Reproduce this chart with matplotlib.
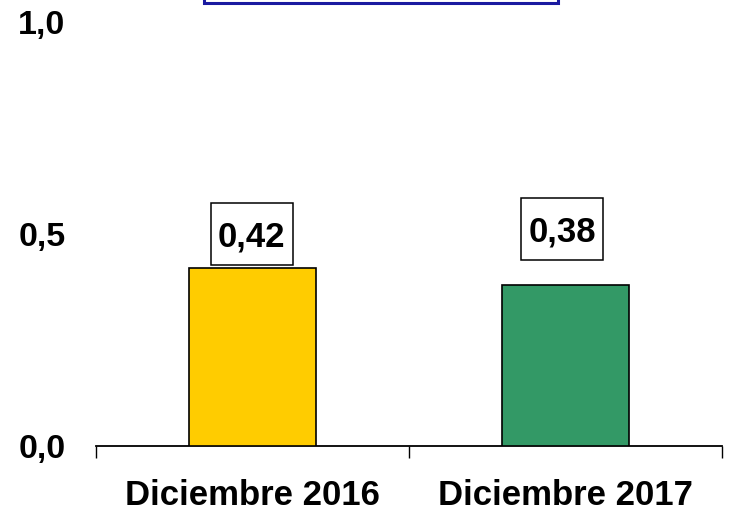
import matplotlib
matplotlib.use("Agg")
import matplotlib.pyplot as plt
from matplotlib.patches import Rectangle

categories = ["Diciembre 2016", "Diciembre 2017"]
values = [0.42, 0.38]
value_labels = ["0,42", "0,38"]
yticks = [0.0, 0.5, 1.0]
ytick_labels = ["0,0", "0,5", "1,0"]

colors = ["#FFCC00", "#339966"]
label_offsets = [0.007, 0.059]
label_dx = [-0.003, -0.01]

plt.rcParams['font.family'] = ['Liberation Sans', 'DejaVu Sans']

fig = plt.figure(figsize=(7.29, 5.15), dpi=100)
ax = fig.add_axes([96/729, 69/515, 626/729, 424/515])

x = list(range(len(categories)))
ax.bar(x, values, width=0.405, color=colors, edgecolor="black", linewidth=1.2, zorder=3)

ax.set_xlim(-0.5, len(categories) - 0.5)
ax.set_ylim(0, 1.0)

ax.set_yticks(yticks)
ax.set_yticklabels(ytick_labels, fontsize=24.5, fontweight="bold")
ax.tick_params(axis="y", length=0, pad=22)

ax.set_xticks(x)
ax.set_xticklabels(categories, fontsize=25, fontweight="bold")
ax.set_xticks([i - 0.5 for i in range(len(categories) + 1)], minor=True)
ax.tick_params(axis="x", which="major", length=0, pad=24)
ax.tick_params(axis="x", which="minor", length=8.5, width=1.0, color="black")

for s in ["left", "right", "top"]:
    ax.spines[s].set_visible(False)
ax.spines["bottom"].set_linewidth(1.3)

bw = 82/313
bh = 62/424
for xi, v, lab, off, dx in zip(x, values, value_labels, label_offsets, label_dx):
    cx = xi + dx
    y0 = v + off
    ax.add_patch(Rectangle((cx - bw/2, y0), bw, bh, facecolor="white",
                           edgecolor="black", linewidth=1.1, zorder=4, clip_on=False))
    ax.text(cx, y0 + bh/2, lab, ha="center", va="center_baseline", fontsize=25,
            fontweight="bold", zorder=5)

fig.patches.append(Rectangle((204/729, 1 - 3/515), 354/729, 0.05, transform=fig.transFigure,
                             facecolor="white", edgecolor="#1A1AA0", linewidth=2.2, figure=fig))

fig.savefig("out.png", dpi=100)
